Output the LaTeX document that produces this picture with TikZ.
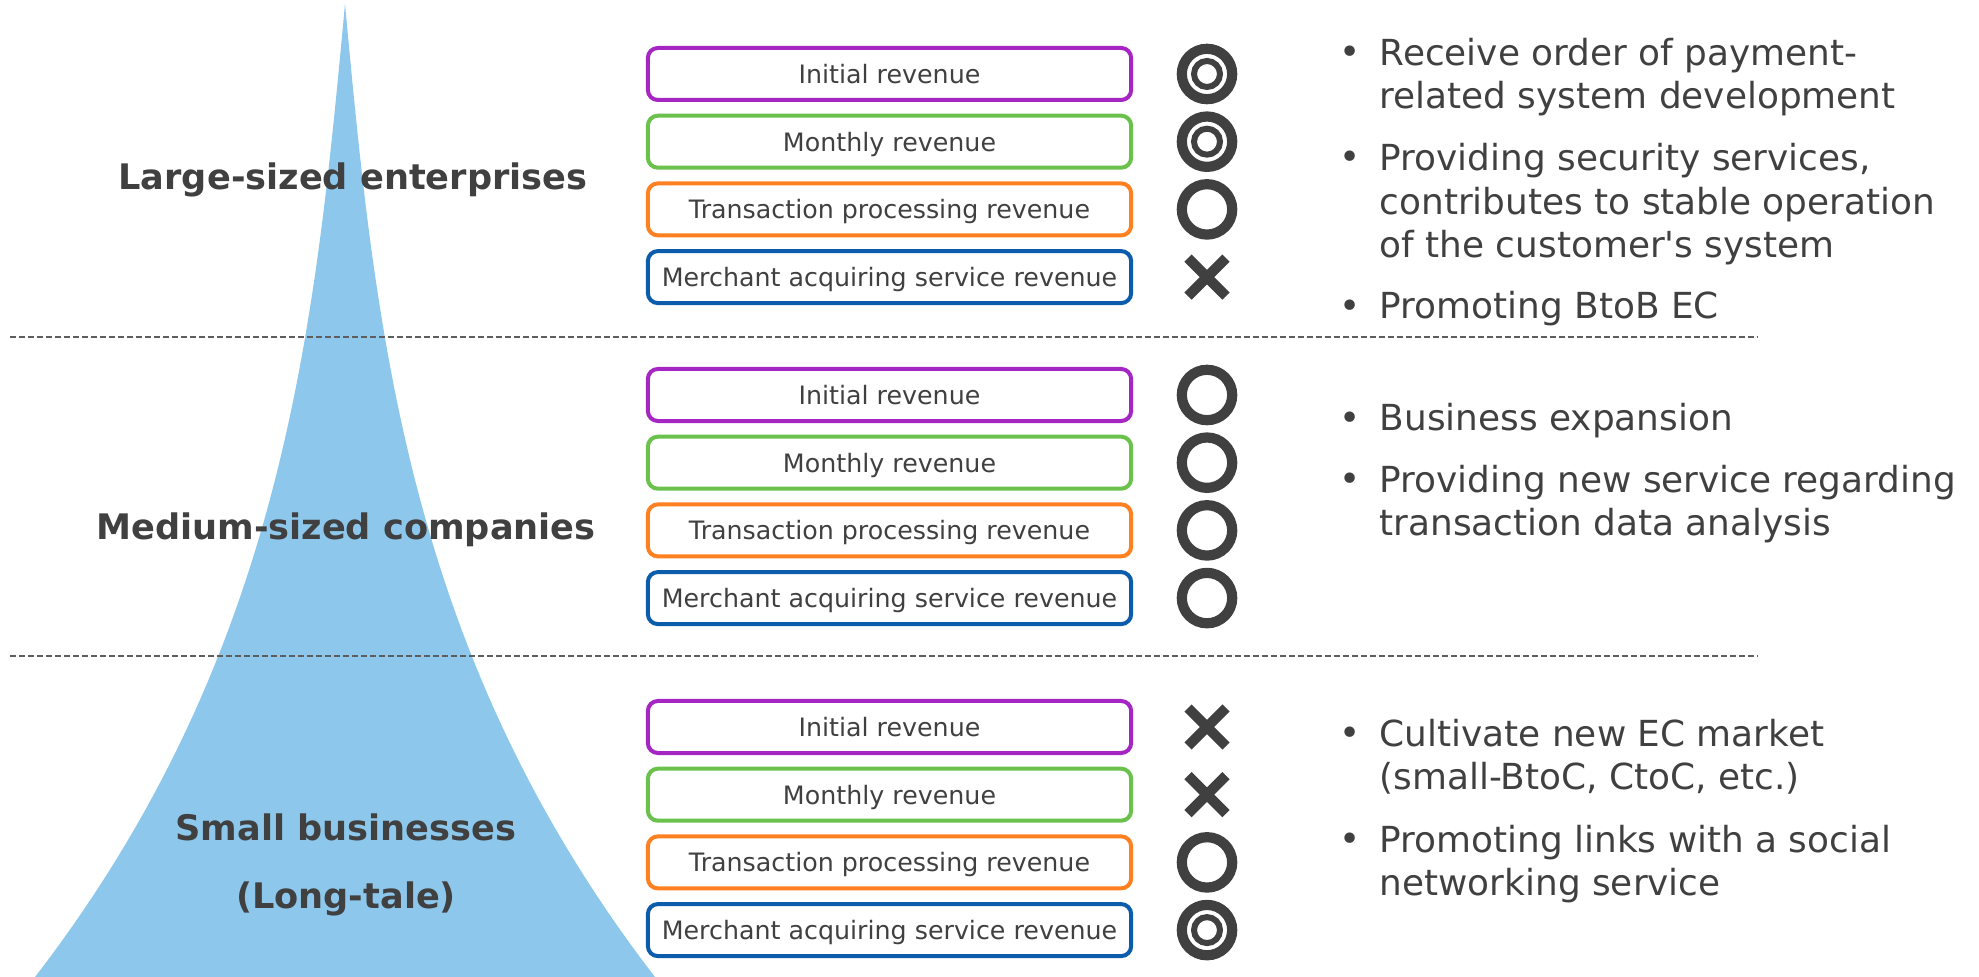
\documentclass[tikz,border=0pt]{standalone}
\usepackage{fontspec}
\setmainfont{DejaVu Sans}

\definecolor{cinza}{HTML}{404040}
\definecolor{tracejado}{HTML}{5E5E5E}
\definecolor{ceu}{HTML}{8DC8EC}
\definecolor{roxo}{HTML}{A526C2}
\definecolor{verde}{HTML}{6AC24C}
\definecolor{laranja}{HTML}{FF8020}
\definecolor{azul}{HTML}{0C5CAC}

\tikzset{
  duplo/.pic={
    \draw[marca] (0,0) circle (25.2);
    \draw[marca, line width=0.06cm] (0,0) circle (13);
  },
  simples/.pic={
    \draw[marca] (0,0) circle (25.2);
  },
  xis/.pic={
    \draw[marca] (-19,-19) -- (19,19) (-19,19) -- (19,-19);
  }
}

\begin{document}
\begin{tikzpicture}[x=0.01cm, y=-0.01cm,
    every node/.style={text=cinza, inner sep=0pt},
    receita/.style={draw, fill=white, line width=0.04cm, rounded corners=0.1cm,
      minimum width=4.83cm, minimum height=0.52cm,
      text height=0.75em, text depth=0.22em,
      font=\fontsize{7.2}{8.6}\selectfont},
    porte/.style={anchor=base, align=center, font=\fontsize{10}{19.6}\selectfont\bfseries},
    topico/.style={anchor=base west, align=left, font=\fontsize{10.2}{12.5}\selectfont},
    ponto/.style={anchor=base, font=\fontsize{10.2}{12.5}\selectfont},
    marca/.style={draw=cinza, line width=0.102cm}]

    \useasboundingbox (0,0) rectangle (1979,977);

    % 1. Pirâmide de clientes (bordas côncavas)
    \fill[ceu] plot[domain=0:9.73, samples=60] ({345-9.32*\x-0.238*\x*\x*\x}, {4+100*\x})
      -- plot[domain=0:9.73, samples=60] ({345+9.32*(9.73-\x)+0.238*(9.73-\x)*(9.73-\x)*(9.73-\x)}, {4+100*(9.73-\x)})
      -- cycle;

    % 2. Linhas que separam as faixas
    \coordinate (s1a) at (10,337);  \coordinate (s1b) at (1758,337);
    \coordinate (s2a) at (10,656);  \coordinate (s2b) at (1758,656);
    \draw[tracejado, line width=0.02cm, dash pattern=on 0.06cm off 0.03cm] (s1a) -- (s1b);
    \draw[tracejado, line width=0.02cm, dash pattern=on 0.06cm off 0.03cm] (s2a) -- (s2b);

    % 3. Porte dos clientes (base = última linha)
    \node[porte] (grande) at (353,190) {Large-sized enterprises};
    \node[porte] (medio)  at (346,540) {Medium-sized companies};
    \node[porte] (pequeno) at (346,909) {Small businesses\\(Long-tale)};

    % 4. Caixas de receita, uma pilha por faixa
    \foreach \g/\y in {1/74, 2/395, 3/727} {
      \foreach \cor/\txt [count=\i] in {roxo/Initial revenue, verde/Monthly revenue,
          laranja/Transaction processing revenue, azul/Merchant acquiring service revenue}
        \node[receita, draw=\cor] (r\g\i) at (889.5, {\y+67.7*(\i-1)}) {\txt};
    }

    % 5. Avaliação de cada receita
    \foreach \g/\y/\ma/\mb/\mc/\md in {1/74/duplo/duplo/simples/xis,
        2/395/simples/simples/simples/simples, 3/727/xis/xis/simples/duplo} {
      \pic at (1207, \y) {\ma};
      \pic at (1207, {\y+67.7}) {\mb};
      \pic at (1207, {\y+135.4}) {\mc};
      \pic at (1207, {\y+203.1}) {\md};
    }

    % 6. Estratégias (ponto na 1a linha, texto pela base da última)
    \node[ponto] (p11) at (1350,65) {•};
    \node[topico] (t11) at (1379,109) {Receive order of payment-\\related system development};
    \node[ponto] (p12) at (1350,170) {•};
    \node[topico] (t12) at (1379,258) {Providing security services,\\contributes to stable operation\\of the customer\textquotesingle s system};
    \node[ponto] (p13) at (1350,319) {•};
    \node[topico] (t13) at (1379,319) {Promoting BtoB EC};

    \node[ponto] (p21) at (1350,431) {•};
    \node[topico] (t21) at (1379,431) {Business expansion};
    \node[ponto] (p22) at (1350,492) {•};
    \node[topico] (t22) at (1379,536) {Providing new service regarding\\transaction data analysis};

    \node[ponto] (p31) at (1350,746) {•};
    \node[topico] (t31) at (1379,790) {Cultivate new EC market\\(small-BtoC, CtoC, etc.)};
    \node[ponto] (p32) at (1350,852) {•};
    \node[topico] (t32) at (1379,896) {Promoting links with a social\\networking service};

\end{tikzpicture}
\end{document}
